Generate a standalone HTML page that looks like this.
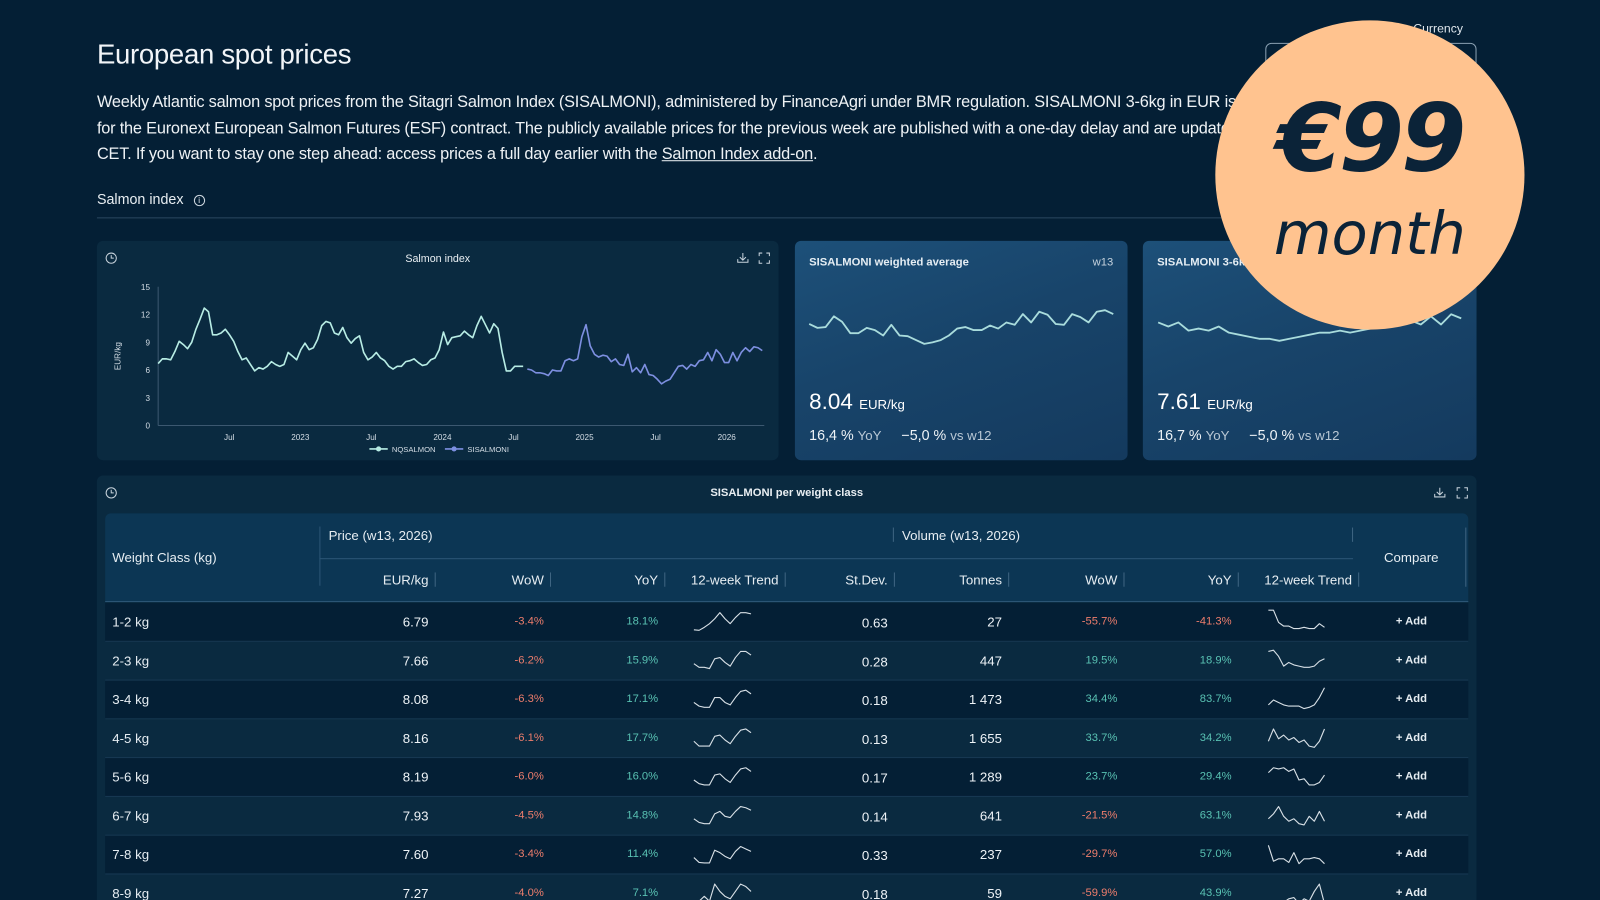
<!DOCTYPE html>
<html style="width:1600px;height:900px;overflow:hidden"><head><meta charset="utf-8">
<style>
*{box-sizing:border-box;margin:0;padding:0}
html,body{width:1600px;height:900px;overflow:hidden}
body{background:#041f35;font-family:"Liberation Sans",sans-serif;color:#e6edf2;position:relative}
#root{position:absolute;left:0;top:0;width:1568px;height:882px;overflow:hidden;transform:scale(1.020408);transform-origin:0 0}
.abs{position:absolute}
h1{position:absolute;left:95px;top:38px;font-size:27px;font-weight:400;color:#f2f5f8;letter-spacing:-0.3px}
.para{position:absolute;left:95px;top:88px;width:1320px;font-size:16px;line-height:25.5px;color:#eef2f5;letter-spacing:-0.2px}
.para a{color:#eef2f5;text-decoration:underline}
.panel{position:absolute;background:#0a2a40;border-radius:6px}
.card{position:absolute;border-radius:6px;background:linear-gradient(160deg,#1d5079 0%,#18446a 45%,#143a5e 100%);overflow:hidden}
.tbl{position:absolute;left:103px;top:503px;width:1336px;height:379px;border-radius:6px 6px 0 0;overflow:hidden}
</style></head><body>
<div id="root">
<h1>European spot prices</h1>
<div class="para">Weekly Atlantic salmon spot prices from the Sitagri Salmon Index (SISALMONI), administered by FinanceAgri under BMR regulation. SISALMONI 3-6kg in EUR is the settlement price<br>for the Euronext European Salmon Futures (ESF) contract. The publicly available prices for the previous week are published with a one-day delay and are updated on Wednesdays at 12:00<br>CET. If you want to stay one step ahead: access prices a full day earlier with the <a>Salmon Index add-on</a>.</div>
<div class="abs" style="left:1385px;top:21px;font-size:12px;color:#dfe6ec">Currency</div>
<div class="abs" style="left:1240px;top:42px;width:207px;height:34px;border:1px solid #8aa0b2;border-radius:6px"></div>
<div class="abs" style="left:95px;top:187px;font-size:14px;color:#e8eef2">Salmon index <span style="display:inline-block;width:11px;height:11px;border:1px solid #cfd8e0;border-radius:50%;font-size:8px;text-align:center;line-height:10px;margin-left:6px;vertical-align:1px">i</span></div>
<div class="abs" style="left:95px;top:213px;width:1352px;height:1px;background:#2a4760"></div>

<div class="panel" style="left:95px;top:236px;width:668px;height:215px"></div>
<svg class="abs" id="mainChart" style="left:0;top:0" width="1568" height="882"></svg>

<div class="card" style="left:779px;top:236px;width:326px;height:215px">
  <div class="abs" style="left:14px;top:15px;font-size:11px;font-weight:700;color:#e5edf3">SISALMONI weighted average</div>
  <div class="abs" style="right:14px;top:15px;font-size:11px;color:#c6d3de">w13</div>
  <div class="abs" style="left:14px;top:145px;font-size:22px;color:#fff">8.04 <span style="font-size:13px">EUR/kg</span></div>
  <div class="abs" style="left:14px;top:182px;font-size:14px;color:#eef3f7">16,4 % <span style="color:#b9c8d5;font-size:13px">YoY</span>&nbsp;&nbsp;&nbsp;&nbsp;&nbsp;−5,0 % <span style="color:#b9c8d5;font-size:13px">vs w12</span></div>
</div>
<div class="card" style="left:1120px;top:236px;width:327px;height:215px">
  <div class="abs" style="left:14px;top:15px;font-size:11px;font-weight:700;color:#e5edf3">SISALMONI 3-6kg</div>
  <div class="abs" style="right:14px;top:15px;font-size:11px;color:#c6d3de">w13</div>
  <div class="abs" style="left:14px;top:145px;font-size:22px;color:#fff">7.61 <span style="font-size:13px">EUR/kg</span></div>
  <div class="abs" style="left:14px;top:182px;font-size:14px;color:#eef3f7">16,7 % <span style="color:#b9c8d5;font-size:13px">YoY</span>&nbsp;&nbsp;&nbsp;&nbsp;&nbsp;−5,0 % <span style="color:#b9c8d5;font-size:13px">vs w12</span></div>
</div>

<div class="panel" style="left:95px;top:466px;width:1352px;height:416px;border-radius:6px 6px 0 0"></div>
<div class="abs" style="left:0;top:477px;width:1542px;text-align:center;font-size:11px;font-weight:700;color:#e8eef2">SISALMONI per weight class</div>
<div class="tbl" id="tbl"></div>
<svg class="abs" id="overlay" style="left:0;top:0" width="1568" height="882"></svg>

<div class="abs" style="left:1191px;top:20px;width:303px;height:303px;border-radius:50%;background:#ffc38f">
  <div class="abs" style="left:0;width:303px;top:62px;text-align:center;font-family:'DejaVu Sans',sans-serif;font-style:italic;font-weight:700;font-size:92px;color:#0b2338;letter-spacing:-3px">€99</div>
  <div class="abs" style="left:0;width:303px;top:175px;text-align:center;font-family:'DejaVu Sans',sans-serif;font-style:italic;font-size:58px;color:#0b2338">month</div>
</div>
</div>

<script>
// ===== main chart data =====
const nqValues=[6.7,7.2,7.2,7.1,8.0,9.1,8.75,8.3,9.0,10.4,11.5,12.7,12.3,9.8,9.8,10.0,10.4,9.8,9.1,8.0,7.1,7.3,6.6,5.9,6.25,6.1,6.4,6.9,6.6,6.4,6.6,7.9,7.5,7.1,8.2,8.9,8.2,8.4,9.3,10.8,11.25,11.1,10.0,9.8,10.6,9.5,8.9,9.4,9.7,7.9,7.1,7.4,7.9,7.3,7.0,6.4,6.1,6.4,6.4,6.9,7.0,7.2,6.8,6.5,6.6,7.1,7.3,8.2,10.1,8.75,9.5,9.6,9.7,10.2,9.8,9.5,10.8,11.8,10.9,10.0,11.0,10.5,7.9,5.9,5.9,6.4,6.4,6.4];
const siValues=[6.1,6.0,5.7,5.7,5.6,5.4,6.0,5.9,5.9,7.0,7.2,7.0,7.2,9.6,10.9,8.6,7.7,7.4,7.6,7.5,6.9,7.2,6.6,6.5,7.7,5.8,6.25,5.7,6.6,5.5,5.4,5.0,4.5,4.8,5.0,5.7,6.4,6.5,6.1,6.6,6.4,7.0,7.1,7.9,7.0,8.2,7.7,6.8,6.8,7.9,7.0,7.9,8.4,8.0,8.5,8.4,8.1];
const yTicks=[0,3,6,9,12,15];
const xTickLabels=["Jul","2023","Jul","2024","Jul","2025","Jul","2026"];
const xTickWeeks=[26,52,78,104,130,156,182,208];
const totalWeeks=221;
const seriesNames=["NQSALMON","SISALMONI"];
// card sparklines
const card1Values=[8.3,8.05,8.1,8.8,8.45,7.7,7.7,8.05,7.9,7.55,8.25,7.55,7.5,7.25,7.0,7.1,7.25,7.55,8.0,8.1,7.9,7.9,8.2,8.0,8.4,8.25,8.95,8.4,9.1,8.9,8.3,8.25,8.95,8.75,8.4,9.1,9.2,8.95];
const card2Values=[8.0,7.8,8.0,7.6,7.7,7.6,7.8,7.5,7.4,7.3,7.2,7.2,7.1,7.2,7.3,7.4,7.5,7.5,7.6,7.5,7.6,7.7,7.9,7.8,8.0,8.1,7.9,8.3,7.9,8.4,8.2];
// table data
const classes=["1-2 kg","2-3 kg","3-4 kg","4-5 kg","5-6 kg","6-7 kg","7-8 kg","8-9 kg"];
const price=["6.79","7.66","8.08","8.16","8.19","7.93","7.60","7.27"];
const priceWoW=["-3.4%","-6.2%","-6.3%","-6.1%","-6.0%","-4.5%","-3.4%","-4.0%"];
const priceYoY=["18.1%","15.9%","17.1%","17.7%","16.0%","14.8%","11.4%","7.1%"];
const stdev=["0.63","0.28","0.18","0.13","0.17","0.14","0.33","0.18"];
const tonnes=["27","447","1 473","1 655","1 289","641","237","59"];
const volWoW=["-55.7%","19.5%","34.4%","33.7%","23.7%","-21.5%","-29.7%","-59.9%"];
const volYoY=["-41.3%","18.9%","83.7%","34.2%","29.4%","63.1%","57.0%","43.9%"];
const priceTrend=[
[2,1.8,3,4.5,6.5,9,6.5,4.5,7,9,9,8.5],
[4,2.5,2.5,2,6,6.5,4.5,3,6.5,9,9,7.5],
[4,2.5,2,2,6,6,4,3,6,8.5,9,7.5],
[4,2,2,2,6,6.5,4.5,3,6,8.5,9,7.5],
[4,2.5,2,2,6,6.5,4.5,3,6,8.5,9,7.5],
[4,2.5,2,2,6,7,5,4.5,7,9,8.5,7.5],
[4,2,1.8,1.8,7,6,4.5,3.5,6.5,8.5,7.5,6.5],
[1,2,4,2,9,6,4,3,6,9,8,6]];
const volTrend=[
[10,10,5,3.5,3.5,2.5,2.5,3,2.5,2.5,4.5,3],
[9,9.5,7,3,4.5,3.5,3,2.5,2.5,3,5,6],
[3,5,4,3,2.5,2.5,2.5,1.5,2,3,6,10],
[4,9,5,6.5,4.5,5.5,3.5,4.5,2,1.5,4,9],
[7,9,8.5,9,7.5,8.5,4,4.5,2,2,3,6],
[4,6,9,5,3,4,2,1.5,5,3,7,3],
[9,2.5,3.5,3.5,2,6,1.5,3.5,3.5,4,3.5,1.5],
[1,2,2,1.5,3,3.5,1,3,2,6,9,1]];

const NS="http://www.w3.org/2000/svg";
function mk(parent,tag,attrs){const e=document.createElementNS(NS,tag);for(const k in attrs)e.setAttribute(k,attrs[k]);parent.appendChild(e);return e;}
const svg=document.getElementById('mainChart');
const ov=document.getElementById('overlay');
const X0=155,X1=747,Y0=417,Y1=281;
const yScale=v=>Y0-(v/15)*(Y0-Y1);
const weekX=w=>X0+w/totalWeeks*(X1-X0);
const N=nqValues.length+siValues.length;
const idxX=i=>X0+i/(N-1)*(X1-X0);

// axes
let g=mk(svg,'g',{});


mk(g,'line',{x1:X0,x2:X0,y1:Y1,y2:Y0,stroke:'#3c5870','stroke-width':1});
yTicks.forEach(t=>{const tx=mk(g,'text',{x:X0-8,y:yScale(t)+3,'text-anchor':'end','font-size':8,fill:'#d5dee6'});tx.textContent=t;

});
let yt=mk(svg,'text',{x:0,y:0,transform:'translate(118,349) rotate(-90)','text-anchor':'middle','font-size':8,fill:'#d5dee6'});yt.textContent='EUR/kg';


let gx=mk(svg,'g',{});


mk(gx,'line',{x1:X0,x2:X1+2,y1:Y0,y2:Y0,stroke:'#3c5870','stroke-width':1});
xTickWeeks.forEach((w,i)=>{const tx=mk(gx,'text',{x:weekX(w),y:Y0+14,'text-anchor':'middle','font-size':8,fill:'#d5dee6'});tx.textContent=xTickLabels[i];

});
// lines
function linePath(vals,offset){return vals.map((v,i)=>(i?'L':'M')+idxX(i+offset).toFixed(1)+','+yScale(v).toFixed(1)).join('');}
let p1=mk(svg,'path',{d:linePath(nqValues,0),fill:'none',stroke:'#b7ece4','stroke-width':1.6,'stroke-linejoin':'round'});


let p2=mk(svg,'path',{d:linePath(siValues,nqValues.length),fill:'none',stroke:'#7d8fe0','stroke-width':1.6,'stroke-linejoin':'round'});


// legend
const legCols=['#b7ece4','#7d8fe0'],legX=[362,436];
seriesNames.forEach((n,i)=>{const lg=mk(svg,'g',{});


mk(lg,'line',{x1:legX[i],x2:legX[i]+18,y1:440,y2:440,stroke:legCols[i],'stroke-width':1.6});
mk(lg,'circle',{cx:legX[i]+9,cy:440,r:2.5,fill:legCols[i]});
const t=mk(lg,'text',{x:legX[i]+22,y:443,'font-size':7.5,fill:'#d5dee6'});t.textContent=n;});
let ct=mk(svg,'text',{x:429,y:257,'text-anchor':'middle','font-size':10.5,fill:'#e8eef2'});ct.textContent='Salmon index';



// card sparklines (drawn on overlay, above cards)
function spark(parent,vals,x0,x1,yTop,yBot,lo,hi,col,w){const d=vals.map((v,i)=>(i?'L':'M')+(x0+i/(vals.length-1)*(x1-x0)).toFixed(1)+','+(yBot-(v-lo)/(hi-lo)*(yBot-yTop)).toFixed(1)).join('');return mk(parent,'path',{d:d,fill:'none',stroke:col,'stroke-width':w,'stroke-linejoin':'round'});}
let s1=spark(ov,card1Values,793,1091,304,337,7.0,9.2,'#a9dcdc',1.8);


let s2=spark(ov,card2Values,1135,1432,308,334,7.1,8.4,'#a9dcdc',1.8);



// table
const tbl=document.getElementById('tbl');
function div(parent,style,text,name,inter){const d=document.createElement('div');d.style.cssText=style;if(text!==undefined)d.textContent=text;


parent.appendChild(d);return d;}
div(tbl,'position:absolute;left:0;top:0;width:1336px;height:87px;background:#0c3654;border-bottom:1px solid #2c5676','', 'table-header',false);
div(tbl,'position:absolute;left:7px;top:36px;font-size:13px','Weight Class (kg)','weight-class-header',false);
div(tbl,'position:absolute;left:210px;top:13px;width:1px;height:58px;background:#2c5676','','header-divider',false);
div(tbl,'position:absolute;left:219px;top:14px;font-size:13px','Price (w13, 2026)','price-group-header',false);
div(tbl,'position:absolute;left:772px;top:14px;width:1px;height:14px;background:#3f6582','','header-divider',false);
div(tbl,'position:absolute;left:781px;top:14px;font-size:13px','Volume (w13, 2026)','volume-group-header',false);
div(tbl,'position:absolute;left:1222px;top:14px;width:1px;height:14px;background:#3f6582','','header-divider',false);
div(tbl,'position:absolute;left:1333px;top:14px;width:1px;height:58px;background:#3f6582','','header-divider',false);
div(tbl,'position:absolute;left:210px;top:44px;width:1013px;height:1px;background:#2c5676','','header-rule',false);
div(tbl,'position:absolute;left:1222px;top:36px;width:116px;text-align:center;font-size:13px','Compare','compare-header',false);
const subHdr=["EUR/kg","WoW","YoY","12-week Trend","St.Dev.","Tonnes","WoW","YoY","12-week Trend"];
const subRight=[317,430,542,660,767,879,992,1104,1222];
subHdr.forEach((h,i)=>{const right=subRight[i];
div(tbl,'position:absolute;right:'+(1336-right)+'px;top:58px;font-size:13px;white-space:nowrap',h,'column-header',false);
div(tbl,'position:absolute;left:'+(right+6)+'px;top:58px;width:1px;height:14px;background:#3f6582','','header-divider',false);});
classes.forEach((c,r)=>{const top=88+r*38;
const row=div(tbl,'position:absolute;left:0;top:'+top+'px;width:1336px;height:38px;background:'+(r%2?'#0a2a40':'#041f35')+';border-bottom:1px solid #193a54;font-size:12.5px','', 'table-row',false);
div(row,'position:absolute;left:7px;top:11px;font-size:13px',c,'weight-class-cell',false);
const vals=[[price[r],317,''],[priceWoW[r],430,'red'],[priceYoY[r],542,'grn'],[stdev[r],767,''],[tonnes[r],879,''],[volWoW[r],992,''],[volYoY[r],1104,'']];
vals.forEach((v,k)=>{let cls=v[2];if(k>=5)cls=v[0].startsWith('-')?'red':'grn';
const fs=(k==0||k==3||k==4)?'13px':'11px';
div(row,'position:absolute;right:'+(1336-v[1])+'px;top:'+(k==0||k==4?11:12)+'px;font-size:'+fs+';color:'+(cls=='red'?'#ee7d6c':cls=='grn'?'#59c2b3':'#eef3f7'),v[0],'value-cell',false);});
div(row,'position:absolute;left:1265px;top:12px;font-size:11px;font-weight:700','+ Add','add-compare-button',true);
const cy=503+top;
let ps=spark(ov,priceTrend[r],680,736,cy+7,cy+31,0,10,'#d8e0e6',1.1);


let vs=spark(ov,volTrend[r],1243,1298,cy+7,cy+31,0,10,'#d8e0e6',1.1);


});
// icons
function clock(cx,cy,name){const gg=mk(ov,'g',{});


mk(gg,'circle',{cx:cx,cy:cy,r:5,fill:'none',stroke:'#c8d3dc','stroke-width':1});mk(gg,'path',{d:`M${cx},${cy-3}V${cy}H${cx+2.5}`,fill:'none',stroke:'#c8d3dc','stroke-width':1});}
clock(109,253,'history-icon');clock(109,483,'history-icon');
function dl(x,y,name){const gg=mk(ov,'g',{});


mk(gg,'path',{d:`M${x},${y-5}V${y+2}M${x-3},${y-1}L${x},${y+2}L${x+3},${y-1}M${x-5},${y+1}V${y+4}H${x+5}V${y+1}`,fill:'none',stroke:'#c8d3dc','stroke-width':1});}
function fs(x,y,name){const gg=mk(ov,'g',{});


mk(gg,'path',{d:`M${x-5},${y-2}V${y-5}H${x-2}M${x+2},${y-5}H${x+5}V${y-2}M${x+5},${y+2}V${y+5}H${x+2}M${x-2},${y+5}H${x-5}V${y+2}`,fill:'none',stroke:'#c8d3dc','stroke-width':1});}
dl(728,253,'download-icon');fs(749,253,'fullscreen-icon');dl(1411,483,'download-icon');fs(1433,483,'fullscreen-icon');
</script>
</body></html>
